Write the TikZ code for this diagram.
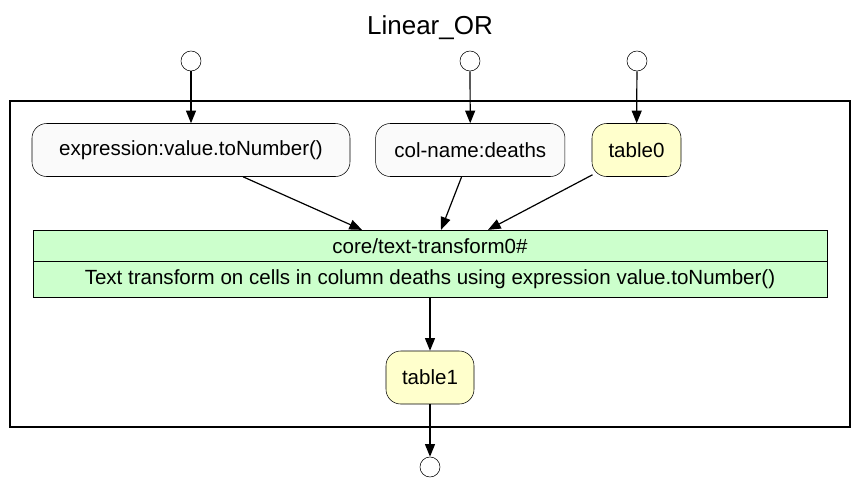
\documentclass[tikz,border=0pt]{standalone}
\usepackage{fontspec}
\setmainfont{Liberation Sans}
\usetikzlibrary{arrows.meta,positioning,shapes.multipart}
\definecolor{paramfill}{HTML}{FAFAFA}
\definecolor{tablefill}{HTML}{FFFFCC}
\definecolor{stepfill}{HTML}{CCFFCC}
\newcommand{\nodefont}{\fontsize{15.4}{18.5}\selectfont}

\begin{document}
\begin{tikzpicture}[
    x=0.75pt, y=-0.75pt,
    param/.style={rectangle, rounded corners=11pt, draw, fill=paramfill, minimum height=39.75pt, inner sep=0pt, font=\nodefont},
    table/.style={param, fill=tablefill},
    stepbox/.style={rectangle split, rectangle split parts=2, draw, fill=stepfill, minimum width=595.5pt, inner xsep=0pt, inner ysep=5.9pt, font=\nodefont},
    port/.style={circle, draw, fill=white, minimum size=15pt, inner sep=0pt},
    arrow/.style={-{Triangle[length=9.5pt,width=7.5pt]}, line width=0.9pt}
]
    \useasboundingbox (0,0) rectangle (861,487);
    \node[font=\fontsize{19.5}{23}\selectfont] (title) at (430,28) {Linear\_OR};
    \draw[line width=2pt] (10,101) rectangle (850,427);

    \node[port] (in1) at (191,61) {};
    \node[port] (in2) at (470,61) {};
    \node[port] (in3) at (637,61) {};

    \node[param, minimum width=238.5pt] (expr) at (191,150) {expression:value.toNumber()};
    \node[param, minimum width=142pt] (col) at (470.3,150) {col-name:deaths};
    \node[table, minimum width=66.75pt] (table0) at (636.5,150) {table0};

    \node[stepbox] (step) at (430,263.5) {core/text-transform0\#
        \nodepart{two} Text transform on cells in column deaths using expression value.toNumber()};

    \node[table, minimum width=66pt] (table1) at (430,377.5) {table1};
    \node[port] (out) at (430,467) {};

    \draw[arrow] (in1) -- (expr);
    \draw[arrow] (in2) -- (col);
    \draw[arrow] (in3) -- (table0);
    \draw[arrow] ([xshift=39pt]expr.south) -- ([xshift=-51pt]step.north);
    \draw[arrow] ([xshift=-6.5pt]col.south) -- ([xshift=8.25pt]step.north);
    \draw[arrow] ([xshift=-33pt,yshift=1.5pt]table0.south) -- ([xshift=43.5pt]step.north);
    \draw[arrow] (step) -- (table1);
    \draw[arrow] (table1) -- (out);
\end{tikzpicture}
\end{document}
